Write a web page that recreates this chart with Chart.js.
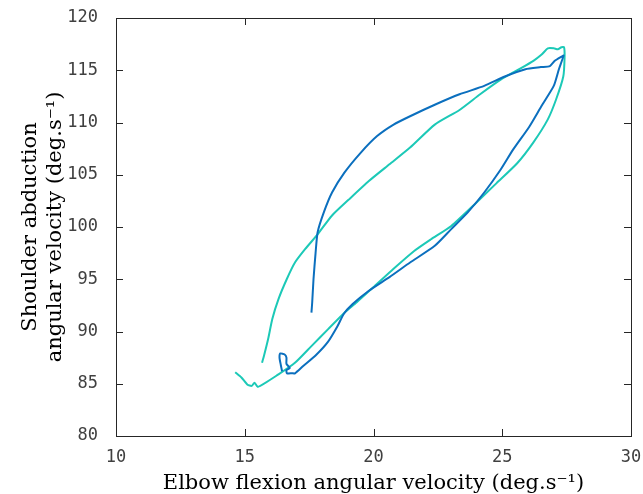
<!DOCTYPE html>
<html>
<head>
<meta charset="utf-8">
<script src="https://cdn.jsdelivr.net/npm/chart.js@4.4.0/dist/chart.umd.min.js"></script>
<style>
  html, body { margin: 0; padding: 0; background: #fff; }
  #wrap { width: 643px; height: 494px; }
</style>
</head>
<body>
<div id="wrap"><canvas id="myChart" width="643" height="494"></canvas></div>
<script>
// trial 1 (dark blue)
var blueX = [17.59,17.62,17.67,17.75,17.83,18.07,18.39,18.87,19.5,20.14,20.78,21.42,22.38,23.34,24.3,25.1,25.9,26.5,26.85,27.04,27.3,27.38,
             27.2,27.0,26.53,26.05,25.42,24.94,24.3,23.66,23.02,22.38,21.42,20.62,19.82,19.18,18.85,18.6,18.23,17.75,17.27,16.95,16.84,
             16.64,16.62,16.75,16.62,16.62,16.55,16.38,16.35,16.4,16.45]
var blueY = [91.8,92.8,95.0,97.5,99.5,101.4,103.3,105.2,107.1,108.7,109.8,110.6,111.7,112.7,113.5,114.4,115.1,115.3,115.4,115.9,116.3,116.4,
             115.1,113.5,111.6,109.6,107.4,105.5,103.3,101.4,99.8,98.2,96.6,95.2,93.9,92.6,91.7,90.5,89.0,87.7,86.7,86.0,86.0,
             86.0,86.3,86.5,86.9,87.5,87.8,87.9,87.5,86.8,86.2]
// trial 2 (cyan)
var cyanX = [15.67,15.75,15.91,16.07,16.31,16.63,16.95,17.35,17.83,18.39,19.03,19.82,20.62,21.42,22.38,23.34,24.14,24.94,25.73,26.21,26.53,26.77,27.0,27.16,27.3,27.4,
             27.42,27.37,27.09,26.77,26.21,25.58,24.78,23.98,23.02,22.22,21.58,20.78,19.98,19.35,18.87,18.23,17.59,16.95,16.31,15.51,15.38,15.27,15.11,14.87,14.63]
var cyanY = [87.0,87.7,89.3,91.2,93.1,95.0,96.6,97.9,99.3,101.1,102.6,104.4,106.0,107.6,109.8,111.2,112.7,114.1,115.2,115.9,116.5,117.1,117.1,117.0,117.2,117.2,
             116.2,114.4,112.2,110.3,108.1,106.1,104.2,102.3,100.1,98.8,97.7,96.0,94.2,92.8,91.8,90.2,88.6,87.0,85.9,84.7,85.1,84.8,84.9,85.6,86.1]

var xTicks = [10,15,20,25,30]
var yTicks = [80,85,90,95,100,105,110,115,120]

function pts(xs, ys){
    return xs.map((x,i)=>({x:x, y:ys[i]}))
}

// MATLAB style box with inward ticks on all sides
var boxTicks = {
    id: 'boxTicks',
    afterDraw(chart){
        let c = chart.ctx
        let a = chart.chartArea
        let sx = chart.scales.x, sy = chart.scales.y
        let len = 7
        c.save()
        c.strokeStyle = '#262626'
        c.lineWidth = 1
        c.beginPath()
        xTicks.forEach(v=>{
            let p = Math.round(sx.getPixelForValue(v)) + 0.5
            c.moveTo(p, a.bottom); c.lineTo(p, a.bottom - len)
            c.moveTo(p, a.top); c.lineTo(p, a.top + len)
        })
        yTicks.forEach(v=>{
            let p = Math.round(sy.getPixelForValue(v)) + 0.5
            c.moveTo(a.left, p); c.lineTo(a.left + len, p)
            c.moveTo(a.right, p); c.lineTo(a.right - len, p)
        })
        c.stroke()
        c.strokeRect(Math.round(a.left)+0.5, Math.round(a.top)+0.5, Math.round(a.right-a.left), Math.round(a.bottom-a.top))
        c.restore()
    }
}

var ctx = document.getElementById('myChart').getContext('2d')
var myChart = new Chart(ctx, {
    type: 'scatter',
    data: {
        datasets: [
            {
                label: 'Trial 1',
                data: pts(blueX, blueY),
                showLine: true,
                borderColor: '#0B6FBE',
                borderWidth: 2,
                pointRadius: 0,
                tension: 0.2
            },
            {
                label: 'Trial 2',
                data: pts(cyanX, cyanY),
                showLine: true,
                borderColor: '#1CC9B7',
                borderWidth: 2,
                pointRadius: 0,
                tension: 0.2
            }
        ]
    },
    plugins: [boxTicks],
    options: {
        responsive: false,
        animation: false,
        layout: { padding: { top: 18, right: 12, left: 0, bottom: 0 } },
        plugins: { legend: { display: false }, tooltip: { enabled: false } },
        scales: {
            x: {
                min: 10, max: 30,
                afterBuildTicks: s => { s.ticks = xTicks.map(v=>({value:v})) },
                afterFit: s => { s.height = 58; s.paddingLeft = 0; s.paddingRight = 0 },
                grid: { display: false },
                border: { display: false },
                ticks: { color: '#404040', padding: 3, font: { family: 'DejaVu Sans Mono', size: 17 } },
                title: {
                    display: true,
                    text: 'Elbow flexion angular velocity (deg.s\u207B\u00B9)',
                    color: '#000',
                    padding: { top: 0, bottom: 0 },
                    font: { family: 'DejaVu Serif', size: 21, lineHeight: 1.0 }
                }
            },
            y: {
                min: 80, max: 120,
                afterBuildTicks: s => { s.ticks = yTicks.map(v=>({value:v})) },
                afterFit: s => { s.width = 116; s.paddingTop = 0; s.paddingBottom = 0 },
                grid: { display: false },
                border: { display: false },
                ticks: { color: '#404040', padding: 10, font: { family: 'DejaVu Sans Mono', size: 17 } },
                title: {
                    display: true,
                    text: ['Shoulder abduction', 'angular velocity (deg.s\u207B\u00B9)'],
                    color: '#000',
                    padding: { top: 18, bottom: 0 },
                    font: { family: 'DejaVu Serif', size: 21, lineHeight: 1.2 }
                }
            }
        }
    }
})
</script>
</body>
</html>
